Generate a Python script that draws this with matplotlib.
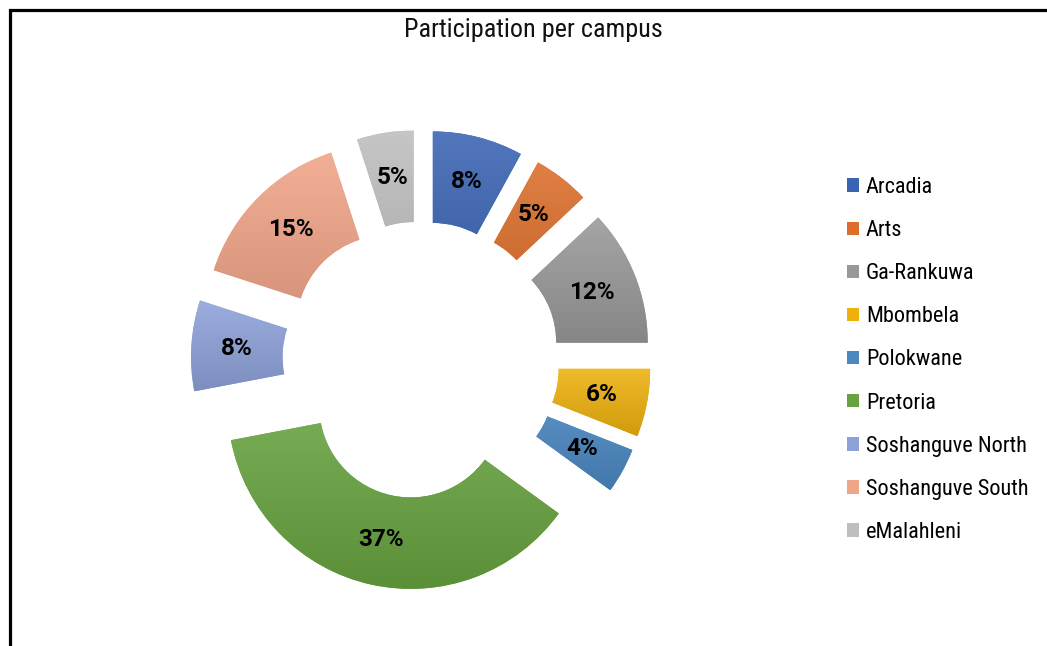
import matplotlib
matplotlib.use('Agg')
import numpy as np
import matplotlib.pyplot as plt
from matplotlib.patches import Rectangle
from matplotlib.colors import LinearSegmentedColormap, to_rgb

campuses = ['Arcadia', 'Arts', 'Ga-Rankuwa', 'Mbombela', 'Polokwane', 'Pretoria',
            'Soshanguve North', 'Soshanguve South', 'eMalahleni']
shares = [8, 5, 12, 6, 4, 37, 8, 15, 5]
colors = ['#3B64B3', '#DB6E2A', '#999999', '#EDB10E', '#4B88C2', '#68A33F',
          '#8DA2D9', '#F0A488', '#BEBEBE']

narrow = ['Roboto Condensed', 'Liberation Sans Narrow', 'DejaVu Sans']

fig = plt.figure(figsize=(10.47, 6.46), dpi=100)

# pie axes: centre at (421, 360) px, radius 183 px -> 1 data unit
W, H = 1047, 646
cx, cy, R = 421, 360, 183
lim = 1.6
ax = fig.add_axes([(cx - lim * R) / W, (H - cy - lim * R) / H, 2 * lim * R / W, 2 * lim * R / H])

wedges, texts, autotexts = ax.pie(
    shares, colors=colors, startangle=90, counterclock=False,
    explode=[0.257] * len(shares), radius=1.0,
    wedgeprops=dict(width=0.5, linewidth=0),
    autopct='%1.0f%%', pctdistance=0.75)

# soft vertical gradient on each slice, lighter at the top
for w, c in zip(wedges, colors):
    rgb = np.array(to_rgb(c))
    light = rgb + (1 - rgb) * 0.12
    dark = rgb * 0.88
    cmap = LinearSegmentedColormap.from_list('g', [dark, light])
    v = w.get_path().vertices
    x0, x1 = v[:, 0].min(), v[:, 0].max()
    y0, y1 = v[:, 1].min(), v[:, 1].max()
    grad = np.linspace(0, 1, 64).reshape(-1, 1)
    im = ax.imshow(grad, cmap=cmap, extent=(x0, x1, y0, y1), origin='lower',
                   aspect='auto', zorder=w.get_zorder() + 0.1, interpolation='bilinear')
    im.set_clip_path(w)

for t in autotexts:
    t.set_family(['Roboto', 'DejaVu Sans'])
    t.set_fontweight('bold')
    t.set_fontsize(17.5)
    t.set_color('black')
    t.set_zorder(5)

ax.set_xlim(-lim, lim)
ax.set_ylim(-lim, lim)

fig.text(533 / W, 1 - 37 / H, 'Participation per campus', ha='center', va='baseline',
         fontsize=18.8, family=narrow, color='#111111')

fig.legend(wedges, campuses, loc='upper left', bbox_to_anchor=(847 / W, 1 - 177 / H),
           frameon=False, prop=dict(family=narrow, size=16),
           handlelength=0.55, handleheight=0.55, handletextpad=0.3,
           labelspacing=0.995, borderpad=0, borderaxespad=0)

# chart frame (runs off the right and bottom of the picture)
fig.patches.append(Rectangle((10 / W, -0.1), 1.2, 1 - 10 / H + 0.1, fill=False,
                             edgecolor='black', linewidth=2.3,
                             transform=fig.transFigure, figure=fig))

fig.savefig('out.png', dpi=100)
